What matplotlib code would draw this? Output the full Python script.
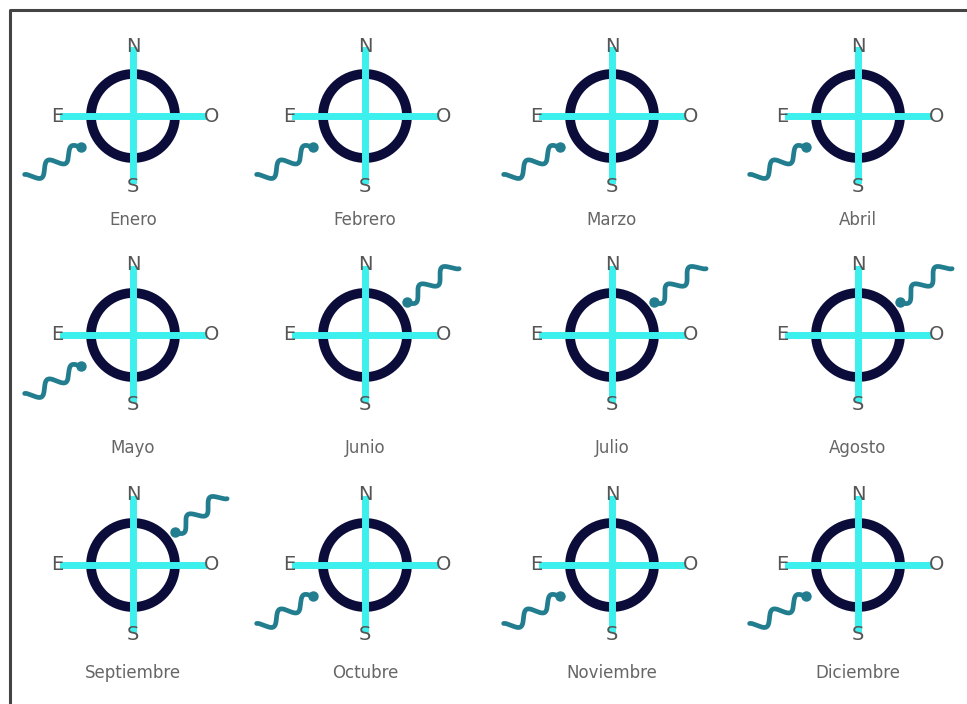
import numpy as np
import matplotlib.pyplot as plt
from matplotlib.patches import Circle

# --- data ---
months = ["Enero", "Febrero", "Marzo", "Abril",
          "Mayo", "Junio", "Julio", "Agosto",
          "Septiembre", "Octubre", "Noviembre", "Diciembre"]
# direction the wind comes from (E is drawn on the left, O on the right)
wind_from = ["SE", "SE", "SE", "SE",
             "SE", "NO", "NO", "NO",
             "NO", "SE", "SE", "SE"]
cardinals = ["N", "S", "E", "O"]

# --- layout (pixel space of a 967x704 canvas) ---
col_x = [133, 365, 612, 858]
row_y = [116, 335, 565]
label_y = [220, 448, 673]
# wave placement per direction: angle (deg, screen coords y up), distance of midpoint
wave_geom = {"SE": (211, 92), "NO": (38, 84)}

CIRCLE_COLOR = "#0c0c3a"
CROSS_COLOR = "#3cf0ee"
WAVE_COLOR = "#227d8f"
TEXT_COLOR = "#555555"

fig = plt.figure(figsize=(9.67, 7.04), dpi=100)
ax = fig.add_axes([0, 0, 1, 1])
ax.set_xlim(0, 967)
ax.set_ylim(704, 0)
ax.set_aspect("equal")
ax.axis("off")

# frame
ax.plot([10, 10, 967], [704, 10, 10], color="#444444", lw=2.2, solid_capstyle="butt")


def draw_wave(cx, cy, direction):
    ang, dist = wave_geom[direction]
    a = np.radians(ang)
    ux, uy = np.cos(a), -np.sin(a)          # pointing away from compass (y down)
    mx, my = cx + ux * dist, cy + uy * dist
    L = 62
    t = np.linspace(-0.5, 0.5, 200)
    amp = 6 * np.sin(2 * np.pi * 2.2 * (t + 0.5))
    px, py = -uy, ux                         # perpendicular
    xs = mx + ux * t * L + px * amp
    ys = my + uy * t * L + py * amp
    ax.plot(xs, ys, color=WAVE_COLOR, lw=3.4, solid_capstyle="round", zorder=4)
    # head (closest to the compass)
    ax.plot(xs[0], ys[0], "o", color=WAVE_COLOR, ms=6.5, zorder=4)


for i, month in enumerate(months):
    r, c = divmod(i, 4)
    cx, cy = col_x[c], row_y[r]

    ax.add_patch(Circle((cx, cy), 42, fill=False, ec=CIRCLE_COLOR, lw=7, zorder=2))
    ax.plot([cx - 70, cx + 70], [cy, cy], color=CROSS_COLOR, lw=5, zorder=3)
    ax.plot([cx, cx], [cy - 66, cy + 64], color=CROSS_COLOR, lw=5, zorder=3)

    offsets = {"N": (0, -70), "S": (0, 70), "E": (-76, 0), "O": (79, 0)}
    for k in cardinals:
        dx, dy = offsets[k]
        ax.text(cx + dx, cy + dy, k, color=TEXT_COLOR, fontsize=14,
                ha="center", va="center", zorder=5)

    draw_wave(cx, cy, wind_from[i])

    ax.text(cx, label_y[r], month, color="#666666", fontsize=12,
            ha="center", va="center")

fig.savefig("out.png", dpi=100, facecolor="white")
